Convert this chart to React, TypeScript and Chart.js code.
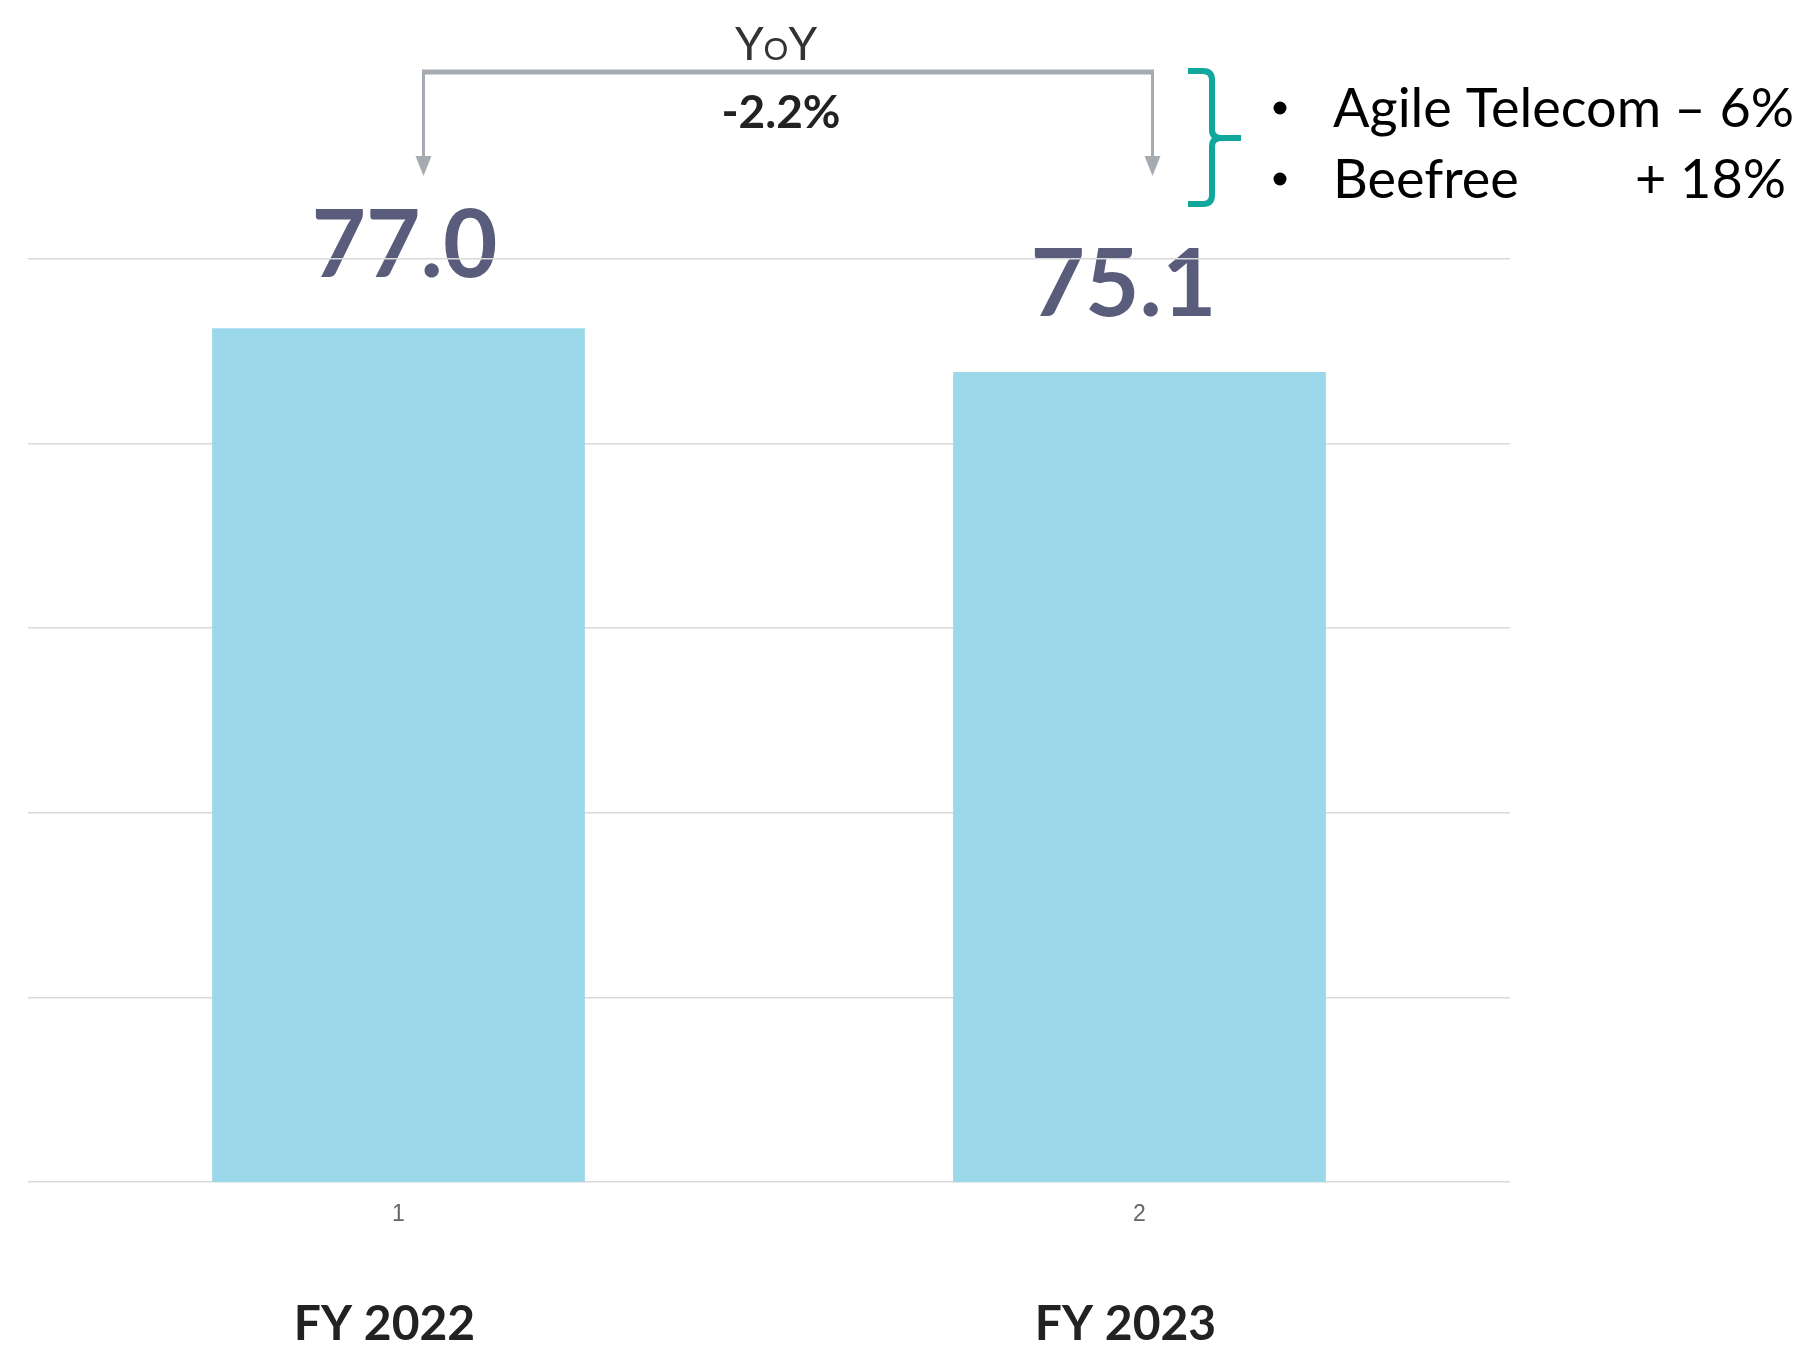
import React, { useEffect, useRef } from "react";
import { Chart, registerables } from "chart.js";

Chart.register(...registerables);

const categories = ["1", "2"];
const periodLabels = ["FY 2022", "FY 2023"];
const values = [77.0, 75.1];
const valueLabels = ["77.0", "75.1"];
const yMin = 40;
const yMax = 80;
const yStep = 8;
const yoyTitle = ["Y", "O", "Y"];
const yoyChange = "-2.2%";
const bulletNames = ["Agile Telecom", "Beefree"];
const bulletChanges = ["\u2013 6%", "+ 18%"];

// layout nudges for value labels (px, relative to bar centre / top)
const labelShiftX = [6, -16];
const labelShiftY = [-51, -56];

const FONT = "Lato, 'Open Sans', sans-serif";

const labelsPlugin = {
  id: "valueLabels",
  beforeDraw(chart: any) {
    const ctx = chart.ctx;
    const meta = chart.getDatasetMeta(0);
    ctx.save();
    ctx.font = `bold 94px ${FONT}`;
    ctx.fillStyle = "#595c7a";
    ctx.textAlign = "center";
    ctx.textBaseline = "alphabetic";
    meta.data.forEach((bar: any, i: number) => {
      ctx.fillText(valueLabels[i], bar.x + labelShiftX[i], bar.y + labelShiftY[i]);
    });
    ctx.restore();
  },
};

const annotationPlugin = {
  id: "annotations",
  afterDraw(chart: any) {
    const ctx = chart.ctx;
    const meta = chart.getDatasetMeta(0);
    const x1 = meta.data[0].x + 25;
    const x2 = meta.data[1].x + 13;
    const lineY = 72;
    const arrowTip = 176;
    ctx.save();
    ctx.strokeStyle = "#a6abb1";
    ctx.fillStyle = "#a6abb1";
    ctx.lineWidth = 5;
    ctx.beginPath();
    ctx.moveTo(x1 - 1.5, lineY);
    ctx.lineTo(x2 + 1.5, lineY);
    ctx.stroke();
    ctx.lineWidth = 3;
    [x1, x2].forEach((x) => {
      ctx.beginPath();
      ctx.moveTo(x, lineY);
      ctx.lineTo(x, arrowTip - 18);
      ctx.stroke();
      ctx.beginPath();
      ctx.moveTo(x - 8, arrowTip - 20);
      ctx.lineTo(x + 8, arrowTip - 20);
      ctx.lineTo(x, arrowTip);
      ctx.closePath();
      ctx.fill();
    });

    // YoY small caps title
    ctx.fillStyle = "#333333";
    ctx.textBaseline = "alphabetic";
    ctx.textAlign = "left";
    const big = `46px ${FONT}`;
    const small = `31px ${FONT}`;
    ctx.font = big;
    const wY = ctx.measureText(yoyTitle[0]).width;
    ctx.font = small;
    const wO = ctx.measureText(yoyTitle[1]).width;
    const total = wY * 2 + wO;
    const cx = (x1 + x2) / 2 - 12;
    let tx = cx - total / 2;
    ctx.font = big;
    ctx.fillText(yoyTitle[0], tx, 60);
    tx += wY;
    ctx.font = small;
    ctx.fillText(yoyTitle[1], tx, 60);
    tx += wO;
    ctx.font = big;
    ctx.fillText(yoyTitle[2], tx, 60);

    ctx.font = `bold 46px ${FONT}`;
    ctx.fillStyle = "#222222";
    ctx.textAlign = "center";
    ctx.fillText(yoyChange, (x1 + x2) / 2 - 7, 128);

    // teal brace
    ctx.strokeStyle = "#10a89d";
    ctx.lineWidth = 6;
    ctx.lineJoin = "round";
    ctx.beginPath();
    ctx.moveTo(1188, 71);
    ctx.lineTo(1203, 71);
    ctx.quadraticCurveTo(1212, 71, 1212, 80);
    ctx.lineTo(1212, 130);
    ctx.quadraticCurveTo(1212, 138, 1222, 138);
    ctx.lineTo(1241, 138);
    ctx.moveTo(1222, 138);
    ctx.quadraticCurveTo(1212, 138, 1212, 146);
    ctx.lineTo(1212, 195);
    ctx.quadraticCurveTo(1212, 204, 1203, 204);
    ctx.lineTo(1188, 204);
    ctx.stroke();

    // bullets
    ctx.fillStyle = "#000000";
    ctx.textAlign = "left";
    ctx.font = `54px ${FONT}`;
    const baselines = [127, 198];
    bulletNames.forEach((name, i) => {
      ctx.beginPath();
      ctx.arc(1280, baselines[i] - 19, 6.5, 0, Math.PI * 2);
      ctx.fill();
      ctx.fillText(name, 1333, baselines[i]);
    });
    ctx.textAlign = "right";
    ctx.fillText(bulletChanges[0], 1794, baselines[0]);
    ctx.fillText(bulletChanges[1], 1786, baselines[1]);
    ctx.restore();
  },
};

export default function App() {
  const canvasRef = useRef<HTMLCanvasElement | null>(null);

  useEffect(() => {
    if (!canvasRef.current) return;
    const chart = new Chart(canvasRef.current, {
      type: "bar",
      data: {
        labels: categories,
        datasets: [
          {
            data: values,
            backgroundColor: "#9bd8e9",
            borderWidth: 0,
            categoryPercentage: 1,
            barPercentage: 0.503,
            xAxisID: "x",
            yAxisID: "y",
          },
        ],
      },
      options: {
        animation: false,
        responsive: true,
        maintainAspectRatio: false,
        layout: { padding: { left: 28, right: 300, top: 259, bottom: 0 } },
        plugins: { legend: { display: false }, tooltip: { enabled: false } },
        scales: {
          x: {
            type: "category",
            position: "bottom",
            weight: 0,
            grid: { display: false, drawTicks: false },
            border: { display: false },
            ticks: {
              color: "#666666",
              font: { family: "'Liberation Sans', Arial, sans-serif", size: 23 },
              padding: 19,
            },
            afterFit: (s: any) => {
              s.height = 60;
            },
          },
          x2: {
            type: "category",
            position: "bottom",
            weight: 1,
            labels: periodLabels,
            grid: { display: false, drawTicks: false },
            border: { display: false },
            ticks: {
              color: "#222222",
              font: { family: FONT, size: 48, weight: "bold" },
              padding: 54,
              labelOffset: -14,
            },
            afterFit: (s: any) => {
              s.height = 103;
            },
          },
          y: {
            min: yMin,
            max: yMax,
            ticks: { display: false, stepSize: yStep },
            grid: { color: "#d9d9d9", lineWidth: 1.5, drawTicks: false },
            border: { display: false },
            afterFit: (s: any) => {
              s.width = 0;
            },
          },
        },
      },
      plugins: [labelsPlugin, annotationPlugin],
    });
    return () => chart.destroy();
  }, []);

  return (
    <div style={{ position: "absolute", left: 0, top: 0, width: 1810, height: 1345, background: "#ffffff" }}>
      <canvas ref={canvasRef} />
    </div>
  );
}
